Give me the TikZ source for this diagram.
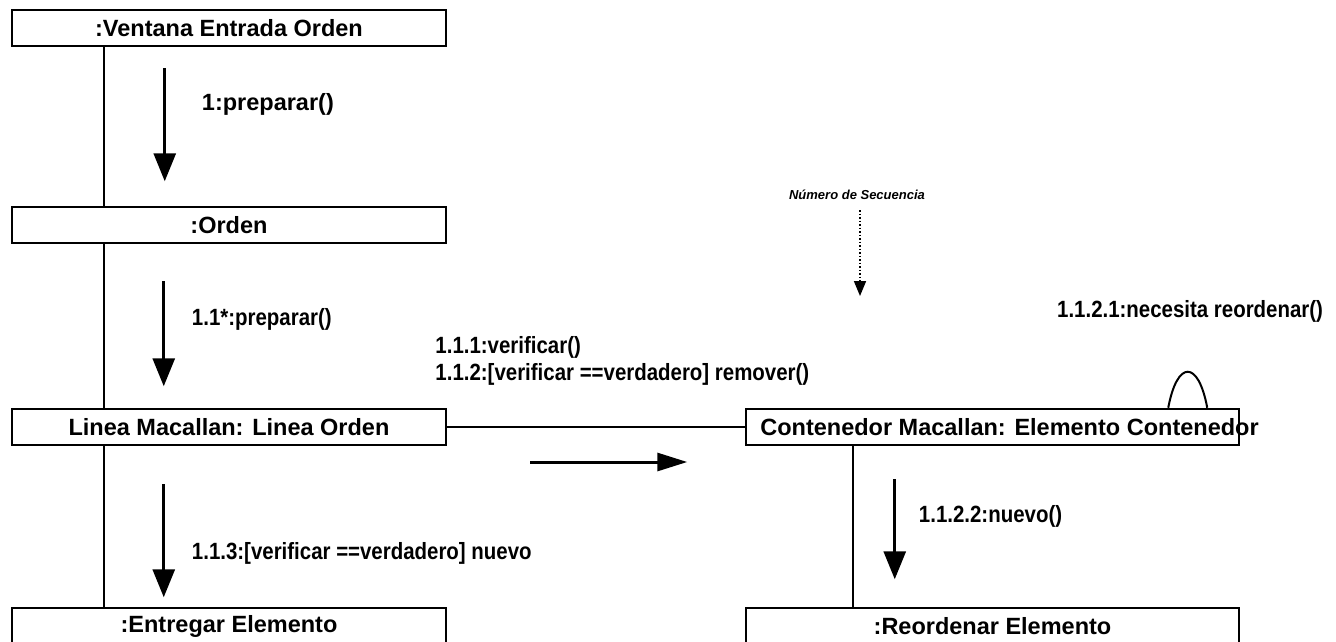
\documentclass[tikz,border=0pt]{standalone}
\usepackage{fontspec}
\setmainfont{Liberation Sans}
\newfontfamily\narrowsans[FakeStretch=0.87]{Liberation Sans}
\usetikzlibrary{calc,arrows.meta}

\tikzset{
  obj/.style={draw,rectangle,line width=2.5pt,minimum width=434pt,minimum height=36pt,inner sep=0pt},
  wideobj/.style={obj,minimum width=493pt},
  life/.style={line width=2pt},
  msg/.style={-{Triangle[length=28pt,width=22pt]},line width=3pt},
  lbl/.style={inner sep=0pt,anchor=west,font=\fontsize{23.5}{28}\narrowsans\bfseries},
}

\begin{document}
\begin{tikzpicture}[x=1pt,y=-1pt,font=\fontsize{23.5}{28}\selectfont\bfseries]
\useasboundingbox (0,0) rectangle (1336,641);

% objects
\draw node [obj] (ventana) at (229,28) {:Ventana Entrada Orden};
\draw node [obj] (orden) at (229,225) {:Orden};
\draw node [obj] (linea) at (229,427) {Linea Macallan: Linea Orden};
\draw node [obj] (entregar) at (229,626) {:Entregar Elemento};
\draw node [wideobj] (contenedor) at (992.5,427) {};
\draw node [inner sep=0pt] (contlbl) at ($ (contenedor) + (17,0) $) {Contenedor Macallan: Elemento Contenedor};
\draw node [wideobj] (reordenar) at (992.5,626) {:Reordenar Elemento};

% links
\draw[life] ($ (ventana.south west) + (93,0) $) -- ($ (orden.north west) + (93,0) $);
\draw[life] ($ (orden.south west) + (93,0) $) -- ($ (linea.north west) + (93,0) $);
\draw[life] ($ (linea.south west) + (93,0) $) -- ($ (entregar.north west) + (93,0) $);
\draw[life] (linea.east) -- (contenedor.west);
\draw[life] ($ (contenedor.south west) + (108,0) $) -- ($ (reordenar.north west) + (108,0) $);
\draw[life] ($ (contenedor.north east) + (-72,0) $) .. controls ($ (contenedor.north east) + (-63,-48) $) and ($ (contenedor.north east) + (-42,-48) $) .. ($ (contenedor.north east) + (-33,0) $);

% messages
\draw[msg] ($ (ventana.south west) + (154,21) $) -- ($ (ventana.south west) + (154,134) $);
\draw node [lbl,font=\fontsize{23.5}{28}\selectfont\bfseries] at ($ (ventana.south west) + (191,57) $) {1:preparar()};

\draw[msg] ($ (orden.south west) + (153,37) $) -- ($ (orden.south west) + (153,142) $);
\draw node [lbl] at ($ (orden.south west) + (181,75) $) {1.1*:preparar()};

\draw[msg] ($ (linea.south west) + (153,38) $) -- ($ (linea.south west) + (153,151) $);
\draw node [lbl] at ($ (linea.south west) + (181,107) $) {1.1.3:[verificar ==verdadero] nuevo};

\draw[msg,-{Triangle[length=30pt,width=18pt]}] ($ (linea.east) + (83,35) $) -- ($ (linea.east) + (240,35) $);
\draw node [lbl] at ($ (linea.north east) + (-12,-60) $) {1.1.1:verificar()};
\draw node [lbl] at ($ (linea.north east) + (-12,-33) $) {1.1.2:[verificar ==verdadero] remover()};

\draw[msg] ($ (contenedor.south west) + (150,33) $) -- ($ (contenedor.south west) + (150,133) $);
\draw node [lbl] at ($ (contenedor.south west) + (174,70) $) {1.1.2.2:nuevo()};

\draw node [lbl,anchor=east] (necesita) at ($ (contenedor.north east) + (83,-96) $) {1.1.2.1:necesita reordenar()};

% note
\draw node [inner sep=0pt,font=\fontsize{13}{15}\selectfont\bfseries\itshape] (numseq) at (857,195) {Número de Secuencia};
\draw[dotted,line width=1.5pt,-{Triangle[length=15pt,width=12pt]}] ($ (numseq.south) + (3,10) $) -- ($ (numseq.south) + (3,96) $);

\end{tikzpicture}
\end{document}
